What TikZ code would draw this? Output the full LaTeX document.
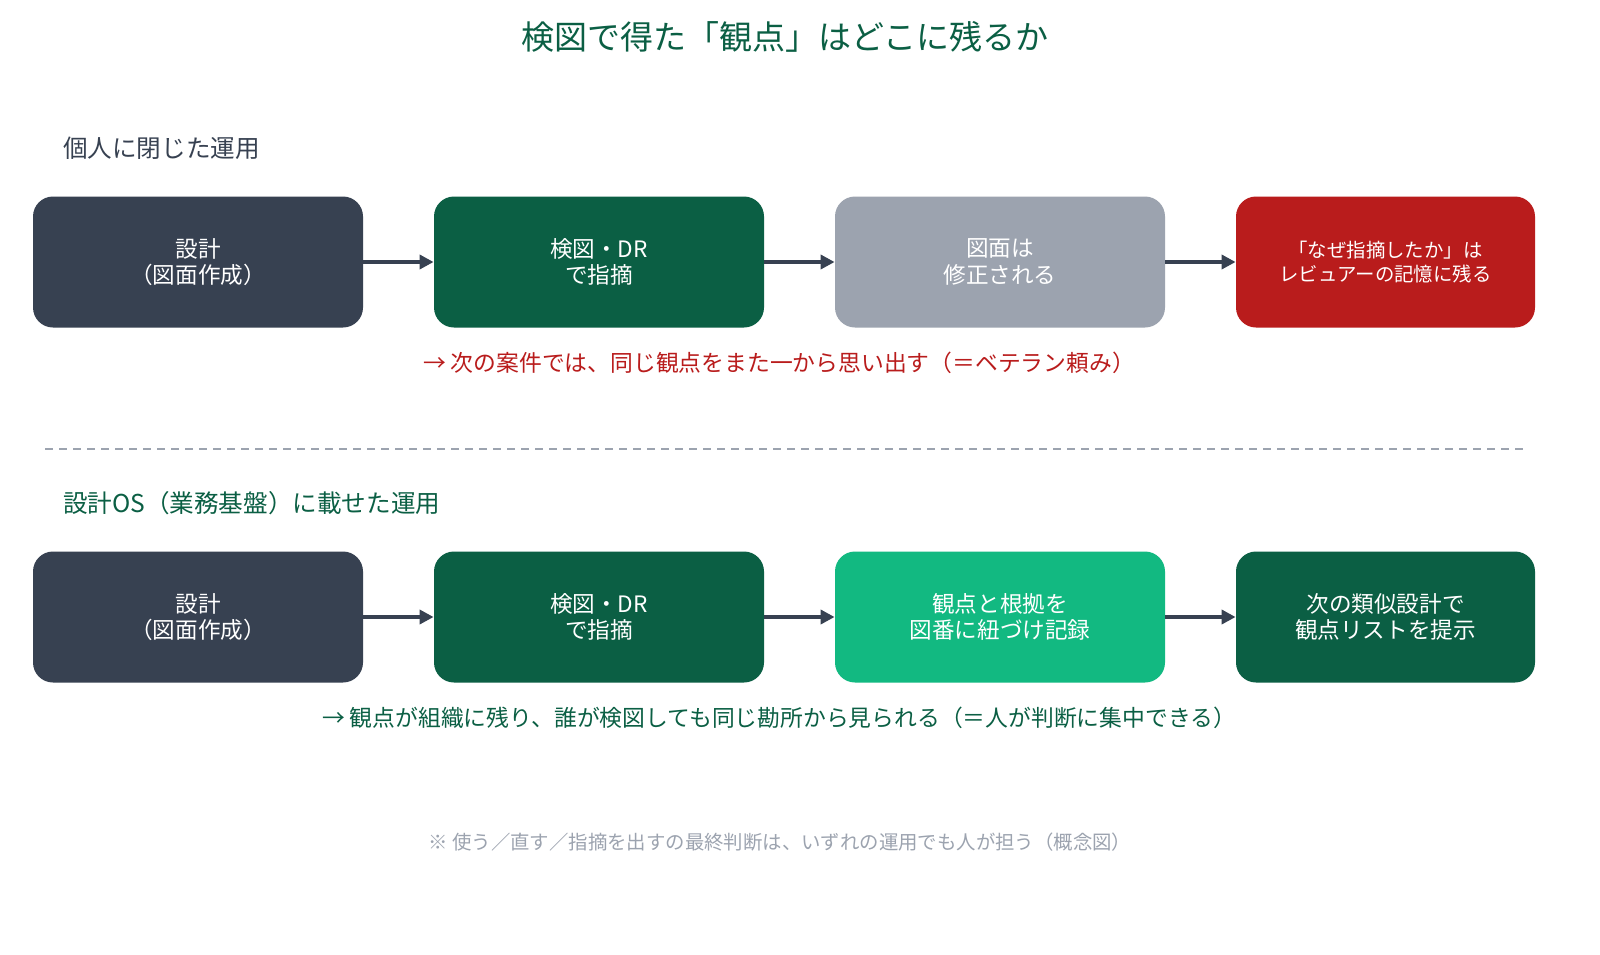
\documentclass[tikz,border=0pt]{standalone}
\usepackage{fontspec}
\setmainfont{Noto Sans CJK JP}
\usetikzlibrary{arrows.meta}
\definecolor{slate}{HTML}{374151}
\definecolor{dgreen}{HTML}{0B5F44}
\definecolor{lgray}{HTML}{9CA3AF}
\definecolor{dred}{HTML}{B91C1C}
\definecolor{bgreen}{HTML}{12B981}
\begin{document}
\begin{tikzpicture}[x=0.5pt,y=-0.5pt,
 box/.style={rounded corners=10pt,minimum width=165pt,minimum height=65.5pt,text=white,align=center,font=\fontsize{11.3}{13.3}\selectfont,inner sep=0pt},
 arr/.style={draw=slate,line width=2pt,-{Triangle[length=7pt,width=7pt]}}]
\path[use as bounding box,fill=white] (0,0) rectangle (1600,954);
\node[text=dgreen,font=\fontsize{16.5}{19}\selectfont] (title) at (785,37) {検図で得た「観点」はどこに残るか};
\node[anchor=west,text=slate,font=\fontsize{12.3}{14}\selectfont] (s1) at (56,148) {個人に閉じた運用};
\node[box,fill=slate] (a1) at (198,262) {設計\\（図面作成）};
\node[box,fill=dgreen] (a2) at (599,262) {検図・DR\\で指摘};
\node[box,fill=lgray] (a3) at (1000,262) {図面は\\修正される};
\node[box,fill=dred,minimum width=149.5pt,font=\fontsize{9.7}{12.3}\selectfont] (a4) at (1385.5,262) {「なぜ指摘したか」は\\レビュアーの記憶に残る};
\draw[arr] (a1) -- (a2); \draw[arr] (a2) -- (a3); \draw[arr] (a3) -- (a4);
\node[text=dred,font=\fontsize{11.4}{13}\selectfont] (n1) at (779,363) {→ 次の案件では、同じ観点をまた一から思い出す（＝ベテラン頼み）};
\draw[lgray,line width=1pt,dash pattern=on 4pt off 3pt] (45,449) -- (1525,449);
\node[anchor=west,text=dgreen,font=\fontsize{12.3}{14}\selectfont] (s2) at (56,503) {設計OS（業務基盤）に載せた運用};
\node[box,fill=slate] (b1) at (198,617) {設計\\（図面作成）};
\node[box,fill=dgreen] (b2) at (599,617) {検図・DR\\で指摘};
\node[box,fill=bgreen] (b3) at (1000,617) {観点と根拠を\\図番に紐づけ記録};
\node[box,fill=dgreen,minimum width=149.5pt] (b4) at (1385.5,617) {次の類似設計で\\観点リストを提示};
\draw[arr] (b1) -- (b2); \draw[arr] (b2) -- (b3); \draw[arr] (b3) -- (b4);
\node[text=dgreen,font=\fontsize{11.4}{13}\selectfont] (n2) at (779,718) {→ 観点が組織に残り、誰が検図しても同じ勘所から見られる（＝人が判断に集中できる）};
\node[text=lgray,font=\fontsize{9.7}{12}\selectfont] (f) at (780,842) {※ 使う／直す／指摘を出すの最終判断は、いずれの運用でも人が担う（概念図）};
\end{tikzpicture}
\end{document}
